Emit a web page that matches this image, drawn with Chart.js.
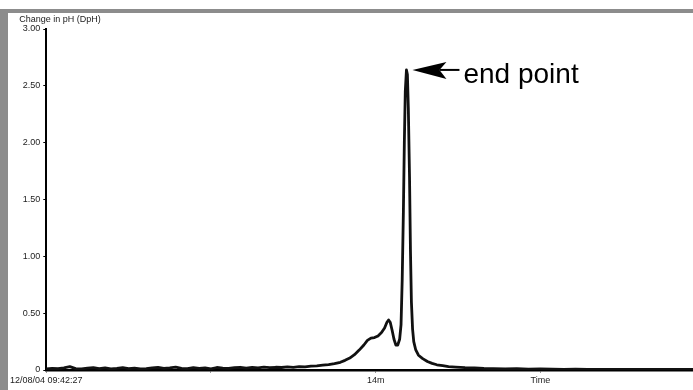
<!DOCTYPE html>
<html>
<head>
<meta charset="utf-8">
<script src="https://cdn.jsdelivr.net/npm/chart.js@4"></script>
<style>
  html, body { margin: 0; padding: 0; background: #fff; overflow: hidden; width: 693px; height: 390px; }
  #frame { position: absolute; left: 0; top: 9px; border-left: 8px solid #8c8c8c; border-top: 4px solid #8c8c8c; }
  #frame canvas { display: block; }
</style>
</head>
<body>
<div id="frame">
  <canvas id="ph-chart" width="720" height="377"></canvas>
</div>
<script>
// time in minutes since 12/08/04 09:42:27
var minutes = [
  0, 0.25, 0.5, 0.75, 1.0, 1.25, 1.5, 1.75, 2.0, 2.25, 2.5, 2.75, 3.0, 3.25, 3.5, 3.75,
  4.0, 4.25, 4.5, 4.75, 5.0, 5.25, 5.5, 5.75, 6.0, 6.25, 6.5, 6.75, 7.0, 7.25, 7.5, 7.75,
  8.0, 8.25, 8.5, 8.75, 9.0, 9.25, 9.5, 9.75, 10.0, 10.25, 10.5, 10.75, 11.0, 11.25, 11.5, 11.75,
  12.0, 12.25, 12.5, 12.7, 12.9, 13.1, 13.3, 13.5, 13.65, 13.8, 13.95, 14.1, 14.25, 14.38, 14.48, 14.55,
  14.62, 14.70, 14.78, 14.86, 14.94, 15.02, 15.08, 15.13, 15.18, 15.22, 15.26, 15.31, 15.35, 15.39, 15.44, 15.48,
  15.52, 15.57, 15.62, 15.70, 15.82, 16.0, 16.2, 16.4, 16.6, 16.85, 17.1, 17.4, 17.8, 18.2, 18.6, 19.0,
  19.5, 20.0, 20.5, 21.0, 21.5, 22.0, 22.5, 23.0, 23.5, 24.0, 24.5, 25.0, 25.5, 26.0, 26.5, 27.0, 27.5, 28.0
];
// change in pH (DpH)
var dph = [
  0.010, 0.015, 0.012, 0.018, 0.030, 0.012, 0.010, 0.016, 0.020, 0.012, 0.018, 0.010, 0.014, 0.020, 0.012, 0.016,
  0.010, 0.012, 0.018, 0.022, 0.014, 0.018, 0.026, 0.015, 0.012, 0.020, 0.014, 0.018, 0.010, 0.022, 0.016, 0.014,
  0.020, 0.024, 0.016, 0.022, 0.018, 0.026, 0.020, 0.024, 0.022, 0.028, 0.024, 0.030, 0.028, 0.034, 0.036, 0.042,
  0.048, 0.056, 0.068, 0.085, 0.105, 0.135, 0.175, 0.22, 0.26, 0.28, 0.285, 0.30, 0.33, 0.37, 0.42, 0.44,
  0.42, 0.35, 0.27, 0.22, 0.22, 0.27, 0.40, 0.80, 1.40, 2.00, 2.45, 2.64, 2.60, 2.30, 1.70, 1.05,
  0.60, 0.36, 0.25, 0.18, 0.13, 0.10, 0.075, 0.058, 0.046, 0.038, 0.030, 0.025, 0.020, 0.018, 0.014, 0.012,
  0.010, 0.012, 0.008, 0.010, 0.008, 0.006, 0.008, 0.006, 0.005, 0.006, 0.005, 0.006, 0.005, 0.005, 0.005, 0.005, 0.005, 0.005
];
var xTicks = [0, 7, 14, 21, 28];
var xTickLabels = ['12/08/04 09:42:27', '', '14m', 'Time', '28m'];
var yTitle = 'Change in pH (DpH)';
var note = 'end point';

var points = [];
for (var i = 0; i < minutes.length; i++) {
  points.push({ x: minutes[i], y: dph[i] });
}

// arrow + label pointing at the highest point, and the y title
var notePlugin = {
  id: 'notePlugin',
  afterDraw: function (chart) {
    var ctx = chart.ctx;
    var xs = chart.scales.x, ys = chart.scales.y;
    var top = 0;
    for (var i = 1; i < dph.length; i++) if (dph[i] > dph[top]) top = i;
    var px = xs.getPixelForValue(minutes[top]);
    var py = ys.getPixelForValue(dph[top]);
    ctx.save();
    ctx.fillStyle = '#000';
    ctx.strokeStyle = '#000';
    // head
    ctx.beginPath();
    ctx.moveTo(px + 6, py);
    ctx.lineTo(px + 40, py - 8);
    ctx.lineTo(px + 33, py);
    ctx.lineTo(px + 40, py + 9);
    ctx.closePath();
    ctx.fill();
    // shaft
    ctx.lineWidth = 2;
    ctx.beginPath();
    ctx.moveTo(px + 33, py);
    ctx.lineTo(px + 53, py);
    ctx.stroke();
    ctx.font = '28px "Liberation Sans", Arial, sans-serif';
    ctx.textBaseline = 'middle';
    ctx.fillText(note, px + 57, py + 5);
    // y axis title
    ctx.font = '9px "Liberation Sans", Arial, sans-serif';
    ctx.fillStyle = '#222';
    ctx.textBaseline = 'alphabetic';
    ctx.fillText(yTitle, chart.chartArea.left - 27, chart.chartArea.top - 7);
    ctx.restore();
  }
};

new Chart(document.getElementById('ph-chart'), {
  type: 'line',
  data: {
    datasets: [{
      data: points,
      borderColor: '#111',
      borderWidth: 2.8,
      borderJoinStyle: 'round',
      borderCapStyle: 'round',
      pointRadius: 0,
      tension: 0,
      fill: false
    }]
  },
  options: {
    responsive: false,
    animation: false,
    layout: { padding: { top: 16, right: 23, left: 0, bottom: 0 } },
    plugins: { legend: { display: false }, tooltip: { enabled: false } },
    scales: {
      x: {
        type: 'linear',
        min: 0,
        max: 28,
        afterBuildTicks: function (scale) {
          scale.ticks = xTicks.map(function (v) { return { value: v }; });
        },
        afterFit: function (scale) { scale.height = 20; },
        ticks: {
          autoSkip: false,
          maxRotation: 0,
          padding: 2,
          color: '#222',
          font: { family: '"Liberation Sans", Arial, sans-serif', size: 9 },
          callback: function (v) { return xTickLabels[xTicks.indexOf(v)]; }
        },
        grid: { drawOnChartArea: false, drawTicks: true, tickLength: 3, color: '#999' },
        border: { color: '#000', width: 2.5 }
      },
      y: {
        min: 0,
        max: 3,
        afterFit: function (scale) { scale.width = 37; },
        ticks: {
          stepSize: 0.5,
          padding: 3,
          color: '#222',
          font: { family: '"Liberation Sans", Arial, sans-serif', size: 9 },
          callback: function (v) { return v === 0 ? '0' : v.toFixed(2); }
        },
        grid: { drawOnChartArea: false, drawTicks: true, tickLength: 3, color: '#000' },
        border: { color: '#000', width: 2 }
      }
    }
  },
  plugins: [notePlugin]
});
</script>
</body>
</html>
